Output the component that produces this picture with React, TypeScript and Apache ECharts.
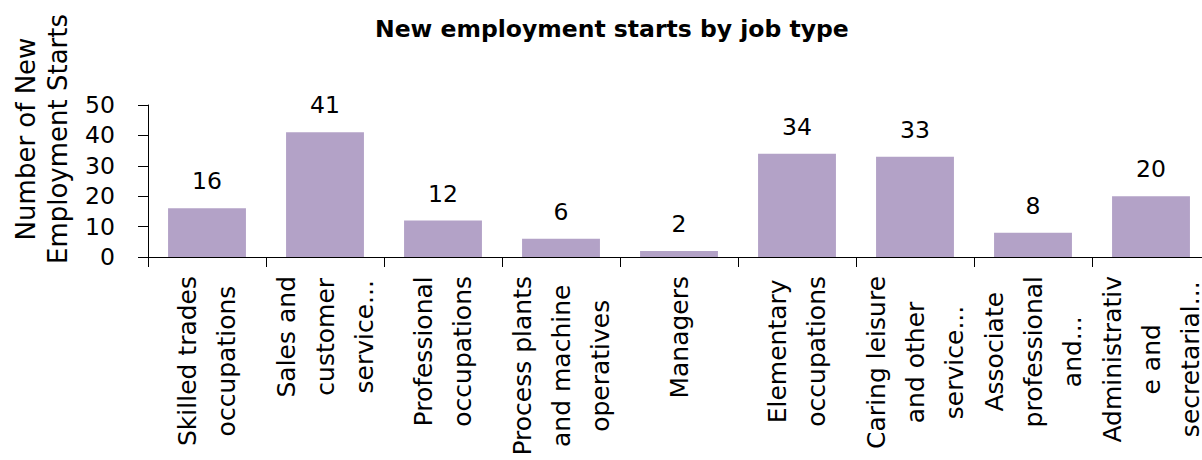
import React, { useEffect, useRef } from "react";
import * as echarts from "echarts";

const titleText = "New employment starts by job type";
const yAxisTitleLines = ["Number of New", "Employment Starts"];

const categories = [
  "Skilled trades occupations",
  "Sales and customer service...",
  "Professional occupations",
  "Process plants and machine operatives",
  "Managers",
  "Elementary occupations",
  "Caring leisure and other service...",
  "Associate professional and...",
  "Administrative and secretarial...",
];

const categoryLabelLines = [
  ["Skilled trades", "occupations"],
  ["Sales and", "customer", "service..."],
  ["Professional", "occupations"],
  ["Process plants", "and machine", "operatives"],
  ["Managers"],
  ["Elementary", "occupations"],
  ["Caring leisure", "and other", "service..."],
  ["Associate", "professional", "and..."],
  ["Administrativ", "e and", "secretarial..."],
];

const starts = [16, 41, 12, 6, 2, 34, 33, 8, 20];

const yMin = 0;
const yMax = 50;
const yInterval = 10;

const FONT = "DejaVu Sans";
const INK = "#000000";
const BAR = "#b3a2c7";

export default function App() {
  const ref = useRef<HTMLDivElement>(null);

  useEffect(() => {
    if (!ref.current) return;
    const chart = echarts.init(ref.current, undefined, { renderer: "svg" });
    chart.setOption({
      animation: false,
      backgroundColor: "#ffffff",
      title: {
        text: titleText,
        left: 375,
        top: 17,
        padding: 0,
        textStyle: {
          fontFamily: FONT,
          fontSize: 23.5,
          fontWeight: "bold",
          color: INK,
        },
      },
      graphic: [
        {
          type: "text",
          x: 42,
          y: 139,
          rotation: Math.PI / 2,
          style: {
            text: yAxisTitleLines.join("\n"),
            align: "center",
            verticalAlign: "middle",
            fontFamily: FONT,
            fontSize: 26,
            lineHeight: 32,
            fill: INK,
          },
        },
      ],
      grid: {
        left: 148,
        right: -8,
        top: 105,
        bottom: 203,
        containLabel: false,
        outerBoundsMode: "none",
      },
      xAxis: {
        type: "category",
        data: categories,
        axisLine: { show: true, lineStyle: { color: INK, width: 1 } },
        axisTick: { show: true, length: 10, lineStyle: { color: INK, width: 1 } },
        axisLabel: {
          interval: 0,
          rotate: 90,
          margin: 19,
          fontFamily: FONT,
          fontSize: 25,
          lineHeight: 39,
          color: INK,
          hideOverlap: false,
          formatter: (_v: string, i: number) =>
            categoryLabelLines[i].map((l) => `{c|${l}}`).join("\n"),
          rich: {
            c: {
              align: "center",
              fontFamily: FONT,
              fontSize: 25,
              lineHeight: 39,
              color: INK,
            },
          },
        },
        splitLine: { show: false },
      },
      yAxis: {
        type: "value",
        min: yMin,
        max: yMax,
        interval: yInterval,
        axisLine: { show: true, lineStyle: { color: INK, width: 1 } },
        axisTick: { show: true, length: 10, lineStyle: { color: INK, width: 1 } },
        axisLabel: {
          margin: 33,
          fontFamily: FONT,
          fontSize: 23.5,
          color: INK,
        },
        splitLine: { show: false },
      },
      series: [
        {
          type: "bar",
          data: starts,
          barCategoryGap: "34%",
          itemStyle: { color: BAR },
          label: {
            show: true,
            position: "top",
            distance: 15,
            fontFamily: FONT,
            fontSize: 23.5,
            color: INK,
          },
        },
      ],
    });
    return () => chart.dispose();
  }, []);

  return (
    <div
      ref={ref}
      style={{ position: "fixed", left: 0, top: 0, width: 1202, height: 460 }}
    />
  );
}
